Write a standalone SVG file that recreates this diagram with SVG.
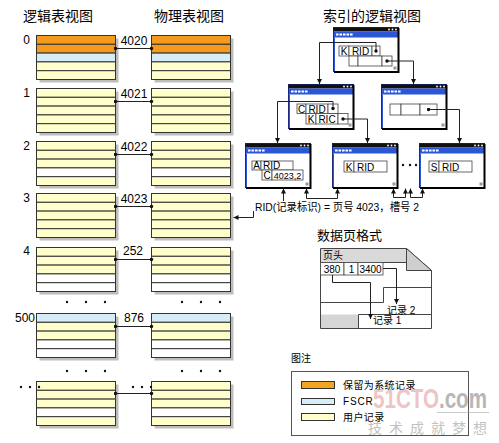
<svg xmlns="http://www.w3.org/2000/svg" xmlns:xlink="http://www.w3.org/1999/xlink" width="499" height="443" viewBox="0 0 499 443">
<style>
text{font-family:"Liberation Sans","Noto Sans CJK SC",sans-serif;fill:#000}
.t{font-size:14px}
.n{font-size:12px}
.c{font-size:10px}
.r{stroke:#333;stroke-width:1}
.o{fill:#f39a1f}.b{fill:#d6ecf8}.y{fill:#ffffcc}.w{fill:#fff}
.sh{fill:#bdbdbd;stroke:none}
.cell{fill:#fff;stroke:#444;stroke-width:0.8}
.ln{fill:none;stroke:#444;stroke-width:1}
.ar{fill:none;stroke:#222;stroke-width:1}
.dot{fill:#111}
</style>
<defs>
<marker id="ah" viewBox="0 0 6 6" refX="6" refY="3" markerWidth="5" markerHeight="5" markerUnits="userSpaceOnUse" orient="auto-start-reverse"><path d="M0 0L6 3L0 6z" fill="#111"/></marker>
<marker id="dt" viewBox="0 0 4 4" refX="2" refY="2" markerWidth="4" markerHeight="4" markerUnits="userSpaceOnUse"><circle cx="2" cy="2" r="1.7" fill="#111"/></marker>
<g id="win">
<rect x="0.5" y="0.5" width="65" height="44" fill="#fff" stroke="#1a2a80"/>
<rect x="0.5" y="0.5" width="65" height="4" fill="#111"/>
<rect x="1" y="4.5" width="64.5" height="6" fill="#2b57d6"/>
<line x1="3" y1="7.5" x2="20" y2="7.5" stroke="#fff" stroke-width="2" stroke-dasharray="2.6 0.9"/>
<circle cx="56" cy="2.5" r="0.9" fill="#fff"/><circle cx="59.5" cy="2.5" r="0.9" fill="#fff"/><circle cx="63" cy="2.5" r="0.9" fill="#fff"/>
<line x1="1.5" y1="10.5" x2="1.5" y2="44" stroke="#2b57d6"/>
<path d="M65.5 1V45H1" fill="none" stroke="#000" stroke-width="2"/>
<rect x="60.5" y="39.5" width="3" height="3" fill="#999"/>
</g>
<g id="tY"><rect class="sh" x="3" y="3" width="79" height="44"/><rect class="r y" width="79" height="8.8"/><rect class="r y" y="8.8" width="79" height="8.8"/><rect class="r y" y="17.6" width="79" height="8.8"/><rect class="r y" y="26.4" width="79" height="8.8"/><rect class="r y" y="35.2" width="79" height="8.8"/></g>
</defs>
<rect width="499" height="443" fill="#fff"/>

<text class="t" x="23" y="21">逻辑表视图</text>
<text class="t" x="154" y="21">物理表视图</text>
<text class="t" x="323" y="21">索引的逻辑视图</text>

<!-- tables -->
<g id="table0">
<g transform="translate(36.5,35.5)"><rect class="sh" x="3" y="3" width="79" height="44"/><rect class="r o" width="79" height="8.8"/><rect class="r o" y="8.8" width="79" height="8.8"/><rect class="r b" y="17.6" width="79" height="8.8"/><rect class="r y" y="26.4" width="79" height="8.8"/><rect class="r y" y="35.2" width="79" height="8.8"/></g>
<g transform="translate(151.5,35.5)"><rect class="sh" x="3" y="3" width="79" height="44"/><rect class="r o" width="79" height="8.8"/><rect class="r o" y="8.8" width="79" height="8.8"/><rect class="r b" y="17.6" width="79" height="8.8"/><rect class="r y" y="26.4" width="79" height="8.8"/><rect class="r y" y="35.2" width="79" height="8.8"/></g>
<text class="n" x="30" y="44" text-anchor="end">0</text><text class="n" x="134" y="45" text-anchor="middle">4020</text>
</g>
<g id="table1">
<use xlink:href="#tY" href="#tY" x="36.5" y="88.5"/><use xlink:href="#tY" href="#tY" x="151.5" y="88.5"/>
<text class="n" x="30" y="97" text-anchor="end">1</text><text class="n" x="134" y="98" text-anchor="middle">4021</text>
</g>
<g id="table2">
<g transform="translate(36.5,141.5)"><rect class="sh" x="3" y="3" width="79" height="44"/><rect class="r y" width="79" height="8.8"/><rect class="r y" y="8.8" width="79" height="8.8"/><rect class="r y" y="17.6" width="79" height="8.8"/><rect class="r w" y="26.4" width="79" height="8.8"/><rect class="r y" y="35.2" width="79" height="8.8"/></g>
<g transform="translate(151.5,141.5)"><rect class="sh" x="3" y="3" width="79" height="44"/><rect class="r y" width="79" height="8.8"/><rect class="r y" y="8.8" width="79" height="8.8"/><rect class="r y" y="17.6" width="79" height="8.8"/><rect class="r w" y="26.4" width="79" height="8.8"/><rect class="r y" y="35.2" width="79" height="8.8"/></g>
<text class="n" x="30" y="150" text-anchor="end">2</text><text class="n" x="134" y="151" text-anchor="middle">4022</text>
</g>
<g id="table3">
<use xlink:href="#tY" href="#tY" x="36.5" y="193.5"/><use xlink:href="#tY" href="#tY" x="151.5" y="193.5"/>
<text class="n" x="30" y="202" text-anchor="end">3</text><text class="n" x="134" y="203" text-anchor="middle">4023</text>
</g>
<g id="table4">
<g transform="translate(36.5,247.5)"><rect class="sh" x="3" y="3" width="79" height="44"/><rect class="r y" width="79" height="8.8"/><rect class="r y" y="8.8" width="79" height="8.8"/><rect class="r y" y="17.6" width="79" height="8.8"/><rect class="r w" y="26.4" width="79" height="8.8"/><rect class="r w" y="35.2" width="79" height="8.8"/></g>
<g transform="translate(151.5,247.5)"><rect class="sh" x="3" y="3" width="79" height="44"/><rect class="r y" width="79" height="8.8"/><rect class="r y" y="8.8" width="79" height="8.8"/><rect class="r y" y="17.6" width="79" height="8.8"/><rect class="r w" y="26.4" width="79" height="8.8"/><rect class="r w" y="35.2" width="79" height="8.8"/></g>
<text class="n" x="30" y="255" text-anchor="end">4</text><text class="n" x="133" y="255" text-anchor="middle">252</text>
</g>
<g id="table500">
<g transform="translate(36.5,313.5)"><rect class="sh" x="3" y="3" width="79" height="44"/><rect class="r b" width="79" height="8.8"/><rect class="r y" y="8.8" width="79" height="8.8"/><rect class="r y" y="17.6" width="79" height="8.8"/><rect class="r w" y="26.4" width="79" height="8.8"/><rect class="r w" y="35.2" width="79" height="8.8"/></g>
<g transform="translate(151.5,313.5)"><rect class="sh" x="3" y="3" width="79" height="44"/><rect class="r b" width="79" height="8.8"/><rect class="r y" y="8.8" width="79" height="8.8"/><rect class="r y" y="17.6" width="79" height="8.8"/><rect class="r w" y="26.4" width="79" height="8.8"/><rect class="r w" y="35.2" width="79" height="8.8"/></g>
<text class="n" x="35" y="322" text-anchor="end">500</text><text class="n" x="134" y="322" text-anchor="middle">876</text>
</g>
<g id="tableN">
<g transform="translate(36.5,381.5)"><rect class="sh" x="3" y="3" width="79" height="44"/><rect class="r y" width="79" height="8.8"/><rect class="r y" y="8.8" width="79" height="8.8"/><rect class="r y" y="17.6" width="79" height="8.8"/><rect class="r w" y="26.4" width="79" height="8.8"/><rect class="r y" y="35.2" width="79" height="8.8"/></g>
<g transform="translate(151.5,381.5)"><rect class="sh" x="3" y="3" width="79" height="44"/><rect class="r y" width="79" height="8.8"/><rect class="r y" y="8.8" width="79" height="8.8"/><rect class="r y" y="17.6" width="79" height="8.8"/><rect class="r w" y="26.4" width="79" height="8.8"/><rect class="r y" y="35.2" width="79" height="8.8"/></g>
<g class="dot"><circle cx="21" cy="387" r="1.2"/><circle cx="30" cy="387" r="1.2"/><circle cx="39" cy="387" r="1.2"/><circle cx="133" cy="387" r="1.2"/><circle cx="142" cy="387" r="1.2"/><circle cx="151" cy="387" r="1.2"/></g>
</g>
<g id="gapdots" class="dot">
<circle cx="67" cy="302" r="1.2"/><circle cx="86" cy="302" r="1.2"/><circle cx="105" cy="302" r="1.2"/>
<circle cx="182" cy="302" r="1.2"/><circle cx="201" cy="302" r="1.2"/><circle cx="220" cy="302" r="1.2"/>
<circle cx="67" cy="371" r="1.2"/><circle cx="86" cy="371" r="1.2"/><circle cx="105" cy="371" r="1.2"/>
<circle cx="182" cy="371" r="1.2"/><circle cx="201" cy="371" r="1.2"/><circle cx="220" cy="371" r="1.2"/>
</g>

<!-- index windows -->
<g id="idxRoot"><use xlink:href="#win" href="#win" x="333" y="27"/>
<rect class="cell" x="339" y="46" width="10" height="10"/><rect class="cell" x="349" y="46" width="23" height="10"/><rect class="cell" x="372" y="46" width="8" height="10"/>
<rect class="cell" x="349" y="56" width="9" height="10"/><rect class="cell" x="358" y="56" width="24" height="10"/><rect class="cell" x="382" y="56" width="10" height="10"/>
<text class="c" x="344" y="54.5" text-anchor="middle">K</text><text class="c" x="360.5" y="54.5" text-anchor="middle">RID</text>
</g>
<g id="idxMidL"><use xlink:href="#win" href="#win" x="288" y="84"/>
<rect class="cell" x="297" y="104" width="9" height="9.5"/><rect class="cell" x="306" y="104" width="22" height="9.5"/><rect class="cell" x="328" y="104" width="10" height="9.5"/>
<rect class="cell" x="306" y="113.5" width="10" height="10.5"/><rect class="cell" x="316" y="113.5" width="22" height="10.5"/><rect class="cell" x="338" y="113.5" width="10" height="10.5"/>
<text class="c" x="301.5" y="112.5" text-anchor="middle">C</text><text class="c" x="317" y="112.5" text-anchor="middle">RID</text>
<text class="c" x="311" y="122.5" text-anchor="middle">K</text><text class="c" x="327" y="122.5" text-anchor="middle">RIC</text>
</g>
<g id="idxMidR"><use xlink:href="#win" href="#win" x="381" y="84"/>
<rect class="cell" x="390" y="104" width="11" height="11"/><rect class="cell" x="401" y="104" width="19" height="11"/><rect class="cell" x="420" y="104" width="17" height="11"/>
</g>
<g id="leafA"><use xlink:href="#win" href="#win" x="245" y="143"/>
<rect class="cell" x="252" y="161" width="9" height="9"/><rect class="cell" x="261" y="161" width="32" height="9"/>
<rect class="cell" x="262" y="170" width="10" height="10"/><rect class="cell" x="272" y="170" width="31" height="10"/>
<text class="c" x="256.5" y="169" text-anchor="middle">A</text><text class="c" x="263" y="169">RID</text>
<text class="c" x="267" y="178.5" text-anchor="middle">C</text><text x="287.5" y="178.5" font-size="9" text-anchor="middle">4023,2</text>
</g>
<g id="leafK"><use xlink:href="#win" href="#win" x="332" y="143"/>
<rect class="cell" x="344" y="161" width="10" height="11"/><rect class="cell" x="354" y="161" width="33" height="11"/>
<text class="c" x="349" y="170.5" text-anchor="middle">K</text><text class="c" x="357" y="170.5">RID</text>
</g>
<g id="leafS"><use xlink:href="#win" href="#win" x="419" y="143"/>
<rect class="cell" x="429" y="161" width="10" height="11"/><rect class="cell" x="439" y="161" width="33" height="11"/>
<text class="c" x="434" y="170.5" text-anchor="middle">S</text><text class="c" x="442" y="170.5">RID</text>
</g>
<g id="leafdots" class="dot"><circle cx="403" cy="165" r="1.2"/><circle cx="410" cy="165" r="1.2"/><circle cx="416" cy="165" r="1.2"/></g>

<text id="ridLabel" x="255" y="211" font-size="11" textLength="164" lengthAdjust="spacingAndGlyphs">RID(记录标识) = 页号 4023，槽号 2</text>

<!-- data page -->
<g id="dataPage">
<text x="317" y="240" font-size="13">数据页格式</text>
<path d="M320.5 248.5H406.5L431.5 270.5V328.5H320.5Z" fill="#fff" stroke="#444"/>
<rect x="321" y="249" width="85" height="13" fill="#d9d9d9"/>
<path d="M406.5 248.5V270.5H431.5Z" fill="#cfcfcf" stroke="#444"/>
<line class="ln" x1="320.5" y1="262.5" x2="406.5" y2="262.5"/>
<text class="c" x="323" y="259">页头</text>
<rect class="cell" x="320.5" y="262.5" width="23.5" height="12.5"/><rect class="cell" x="344" y="262.5" width="14" height="12.5"/><rect class="cell" x="358" y="262.5" width="25" height="12.5"/>
<text class="c" x="332" y="272.5" text-anchor="middle">380</text><text class="c" x="351.5" y="272.5" text-anchor="middle">1</text><text class="c" x="370.5" y="272.5" text-anchor="middle">3400</text>
<rect x="321" y="314.5" width="37.5" height="13.5" fill="#d5d5d5"/>
<path class="ln" d="M320.5 302.5H383.5V287.5H431.5"/>
<path class="ln" d="M358.5 328.5V314.5H431.5"/>
<text class="c" x="387" y="314">记录 2</text>
<text class="c" x="373" y="324">记录 1</text>
</g>

<!-- connectors -->
<g id="connectors">
<line class="ar" x1="115.5" y1="48.5" x2="151.5" y2="48.5" marker-start="url(#dt)" marker-end="url(#dt)"/>
<line class="ar" x1="115.5" y1="101.5" x2="151.5" y2="101.5" marker-start="url(#dt)" marker-end="url(#dt)"/>
<line class="ar" x1="115.5" y1="154.5" x2="151.5" y2="154.5" marker-start="url(#dt)" marker-end="url(#dt)"/>
<line class="ar" x1="115.5" y1="206.5" x2="151.5" y2="206.5" marker-start="url(#dt)" marker-end="url(#dt)"/>
<line class="ar" x1="115.5" y1="259.5" x2="151.5" y2="259.5" marker-start="url(#dt)" marker-end="url(#dt)"/>
<line class="ar" x1="115.5" y1="326.5" x2="151.5" y2="326.5" marker-start="url(#dt)" marker-end="url(#dt)"/>
<line class="ar" x1="115.5" y1="393.5" x2="151.5" y2="393.5" marker-start="url(#dt)" marker-end="url(#dt)"/>
<path class="ar" d="M376 51V42.5H319.5V84" marker-start="url(#dt)" marker-end="url(#ah)"/>
<path class="ar" d="M387 61H413.5V84" marker-start="url(#dt)" marker-end="url(#ah)"/>
<path class="ar" d="M333 108.5V101.5H277.5V143" marker-start="url(#dt)" marker-end="url(#ah)"/>
<path class="ar" d="M343 119H367.5V143" marker-start="url(#dt)" marker-end="url(#ah)"/>
<path class="ar" d="M428.5 109.5H459.5V143" marker-start="url(#dt)" marker-end="url(#ah)"/>
<path class="ar" d="M306.5 188.5V198.5H337.5V188.5" marker-start="url(#ah)" marker-end="url(#ah)"/>
<path class="ar" d="M393.5 188.5V197.5H405.5V188.5" marker-start="url(#ah)" marker-end="url(#ah)"/>
<path class="ar" d="M410.5 188.5V197.5H422.5V188.5" marker-start="url(#ah)" marker-end="url(#ah)"/>
<path class="ar" d="M283.5 201V188.5" marker-end="url(#ah)"/>
<path class="ar" d="M253.5 211V217.5H233.5" marker-end="url(#ah)"/>
<path class="ar" d="M383 268.5H396.5V304" marker-end="url(#ah)"/>
<path class="ar" d="M332.5 275V282.5H370.5V319" marker-end="url(#ah)"/>
</g>

<!-- legend -->
<g id="legend">
<text class="c" x="291" y="362">图注</text>
<rect x="291.5" y="371.5" width="177" height="64" fill="#fff" stroke="#555"/>
<rect x="301.5" y="381.5" width="33" height="7" fill="#f3a51f" stroke="#333"/>
<rect x="301.5" y="398.5" width="33" height="6" fill="#d6ecf8" stroke="#333"/>
<rect x="301.5" y="413.5" width="33" height="7" fill="#ffffcc" stroke="#333"/>
<text class="c" x="343" y="389" letter-spacing="0.4">保留为系统记录</text>
<text class="c" x="343" y="405" letter-spacing="0.8">FSCR</text>
<text class="c" x="343" y="421" letter-spacing="0.4">用户记录</text>
</g>

<!-- watermark -->
<g id="watermark" opacity="0.6">
<text x="373" y="408" font-family="'Liberation Sans Narrow','Liberation Sans',sans-serif" font-weight="bold" font-size="28" textLength="114" lengthAdjust="spacingAndGlyphs"><tspan style="fill:#e3a0a0">51CTO</tspan><tspan style="fill:#888">.com</tspan></text>
<line x1="437" y1="412.5" x2="489" y2="412.5" stroke="#aaa"/>
<text x="368" y="433" font-size="14" style="fill:#999" letter-spacing="7">技术成就梦想</text>
</g>
</svg>
